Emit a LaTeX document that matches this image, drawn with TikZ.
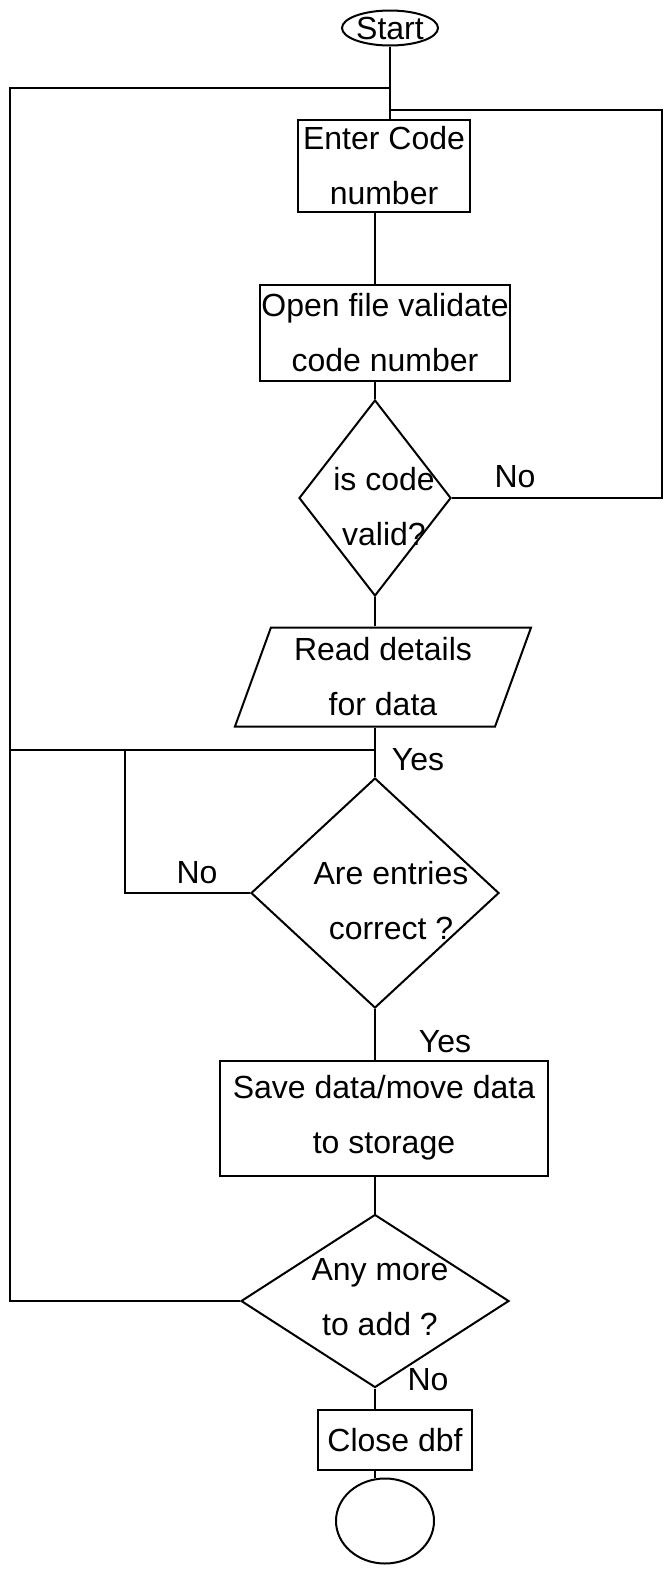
\documentclass[tikz,border=0pt]{standalone}
\usepackage{fontspec}
\setmainfont{Liberation Sans}
\usetikzlibrary{shapes.geometric}

\tikzset{
  link/.style = {line width = 1pt},
  procbox/.style = {draw, line width = 1pt, rectangle, inner sep = 0pt, align = center},
  decision/.style = {draw, line width = 1pt, diamond, inner sep = 0pt},
  iobox/.style = {draw, line width = 1pt, trapezium, trapezium left angle = 70,
    trapezium right angle = 110, inner sep = 0pt, align = center},
  terminal/.style = {draw, line width = 1pt, ellipse, inner sep = 0pt},
  txt/.style = {align = center, inner sep = 0pt}
}

\begin{document}
\begin{tikzpicture}[x = 0.5pt, y = -0.5pt,
    every node/.style = {font = \fontsize{16}{27.5}\selectfont}]
    \useasboundingbox (0, 0) rectangle (664, 1569);

    \node[terminal, minimum width = 48pt, minimum height = 17.5pt]
      (start) at (390, 28) {Start};
    \node[procbox, minimum width = 86pt, minimum height = 46pt]
      (enter) at (384, 166) {Enter Code\\number};
    \node[procbox, minimum width = 125pt, minimum height = 48pt]
      (open) at (385, 333) {Open file validate\\code number};
    \node[decision, minimum width = 76pt, minimum height = 98pt]
      (valid) at (375, 498) {};
    \node[txt] (validtxt) at (384, 507) {is code\\valid?};
    \node[iobox, minimum width = 143.5pt, minimum height = 49.5pt]
      (read) at (383, 677) {Read details\\for data};
    \coordinate (join) at (375, 750);
    \node[decision, minimum width = 124pt, minimum height = 115pt]
      (entries) at (375, 893) {};
    \node[txt] (entriestxt) at (391, 901) {Are entries\\correct ?};
    \node[procbox, minimum width = 164pt, minimum height = 57.5pt]
      (save) at (384, 1118) {Save data/move data\\to storage};
    \node[decision, minimum width = 134pt, minimum height = 86.5pt]
      (more) at (375, 1301) {};
    \node[txt] (moretxt) at (380, 1297) {Any more\\to add ?};
    \node[procbox, minimum width = 77pt, minimum height = 30pt]
      (close) at (395, 1440) {Close dbf};
    \node[terminal, minimum width = 49pt, minimum height = 42.5pt]
      (stop) at (385, 1521) {};

    \coordinate (loopL) at (10, 88);
    \coordinate (loopR) at (662, 110);
    \coordinate (loopN) at (125, 750);

    \draw[link] (start.south) -- (start.south |- enter.north);
    \draw[link] (enter.south -| valid.north) -- (open.north -| valid.north);
    \draw[link] (open.south -| valid.north) -- (valid.north);
    \draw[link] (valid.south) -- (read.north -| valid.south);
    \draw[link] (read.south -| valid.south) -- (join) -- (entries.north);
    \draw[link] (entries.south) -- (save.north -| entries.south);
    \draw[link] (save.south -| more.north) -- (more.north);
    \draw[link] (more.south) -- (close.north -| more.south);
    \draw[link] (close.south -| more.south) -- (more.south |- stop.north);

    \draw[link] (more.west) -| (loopL) -- (loopL -| start.south);
    \draw[link] (valid.east) -| (loopR) -- (loopR -| start.south);
    \draw[link] (entries.west) -| (loopN);
    \draw[link] (loopL |- join) -- (join);

    \node[txt] (noA) at (515, 477) {No};
    \node[txt] (yesA) at (418, 760) {Yes};
    \node[txt] (noB) at (197, 873) {No};
    \node[txt] (yesB) at (445, 1042) {Yes};
    \node[txt] (noC) at (428, 1380) {No};
  \end{tikzpicture}
\end{document}
